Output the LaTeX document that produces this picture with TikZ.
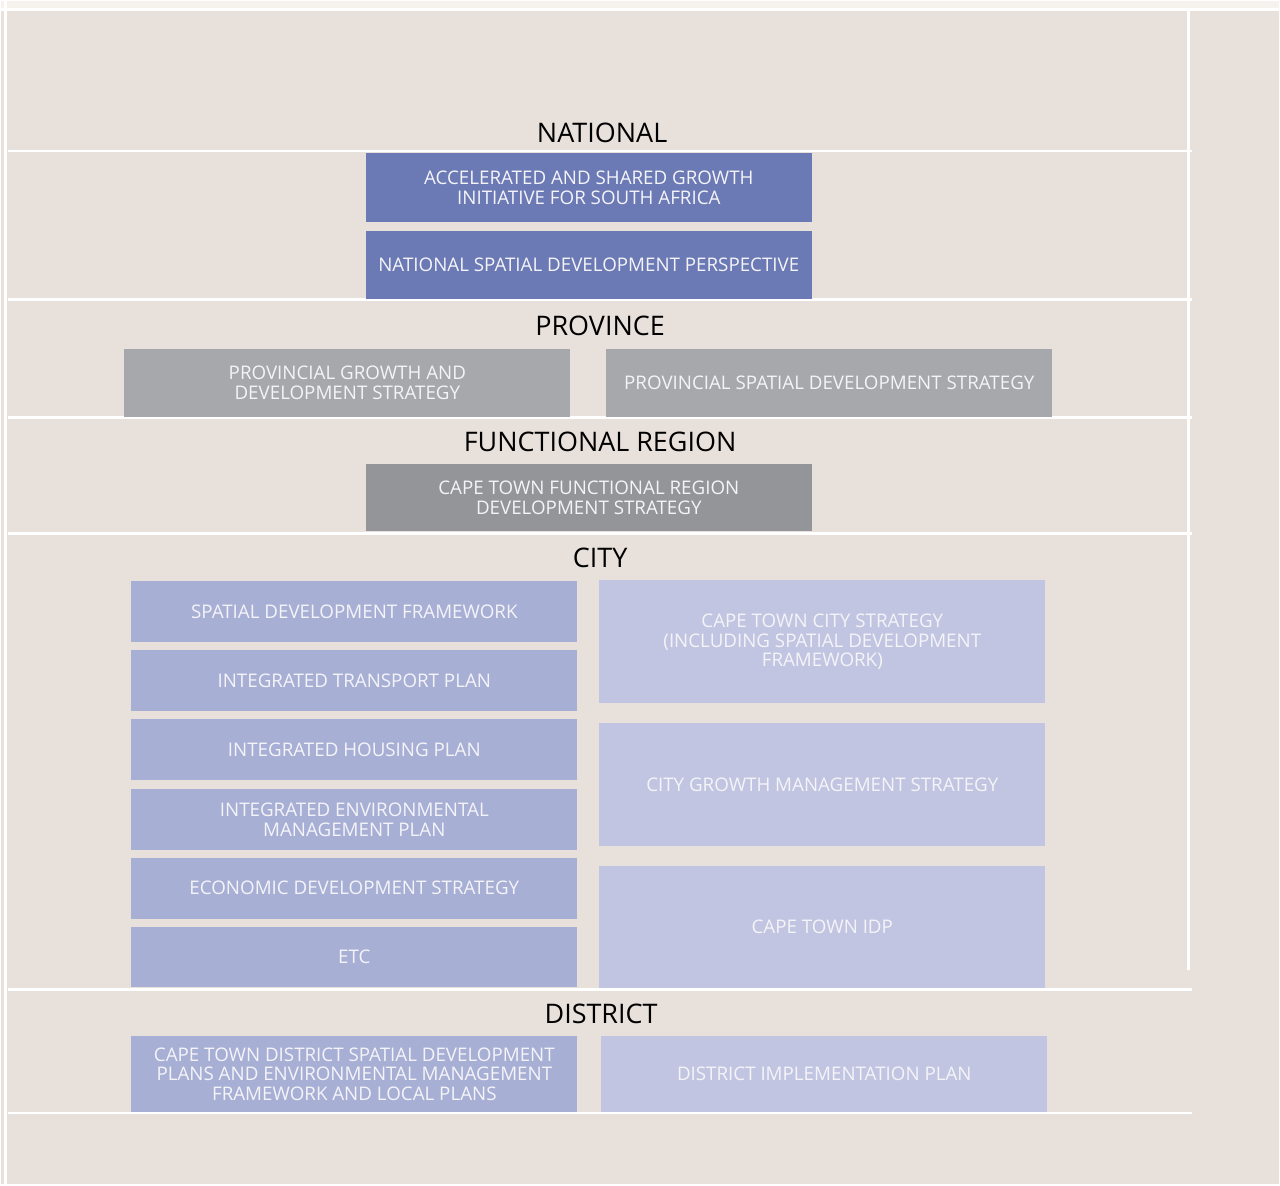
\documentclass[tikz,border=0pt]{standalone}
\usepackage{fontspec}
\setmainfont{Open Sans}
\definecolor{paper}{HTML}{E8E0DA}
\definecolor{paperlight}{HTML}{F6F2EE}
\definecolor{natblue}{HTML}{6B79B4}
\definecolor{provgrey}{HTML}{A7A8AC}
\definecolor{regiongrey}{HTML}{939598}
\definecolor{citymid}{HTML}{A8AFD5}
\definecolor{citylight}{HTML}{C2C5E1}
\definecolor{boxtext}{HTML}{F4F4F8}

\begin{document}
\begin{tikzpicture}[x=1pt,y=-1pt,
  level/.style={font=\fontsize{27}{30}\selectfont, text=black, inner sep=0pt},
  plan/.style={rectangle, anchor=north west, inner sep=0pt, align=center,
    text=boxtext, font=\fontsize{18.8}{20}\selectfont, minimum width=447pt},
  rule/.style={white, line width=2.8pt}]

% page and frame
\fill[paper] (0,0) rectangle (1280,1185);
\fill[paperlight] (0,0) rectangle (1280,8);
\draw[rule] (0,8) -- (1280,8);
\draw[rule] (4,0) -- (4,1185);
\draw[rule] (1190,8) -- (1190,971);
\foreach \y in {150,299,417,533,990,1114}
  \draw[rule] (7,\y) -- (1193,\y);

% national
\node[level] (national) at (602,132) {NATIONAL};
\node[plan, fill=natblue, minimum height=69pt] (asgisa) at (365,152)
  {ACCELERATED AND SHARED GROWTH\\INITIATIVE FOR SOUTH AFRICA};
\node[plan, fill=natblue, minimum height=68pt] (nsdp) at (365,230)
  {NATIONAL SPATIAL DEVELOPMENT PERSPECTIVE};

% province
\node[level] (province) at (600,325) {PROVINCE};
\node[plan, fill=provgrey, minimum height=68pt] (pgds) at (123,348)
  {PROVINCIAL GROWTH AND\\DEVELOPMENT STRATEGY};
\node[plan, fill=provgrey, minimum height=68pt] (psds) at (606,348)
  {PROVINCIAL SPATIAL DEVELOPMENT STRATEGY};

% functional region
\node[level] (region) at (600,441) {FUNCTIONAL REGION};
\node[plan, fill=regiongrey, minimum height=68pt] (frds) at (365,463)
  {CAPE TOWN FUNCTIONAL REGION\\DEVELOPMENT STRATEGY};

% city
\node[level] (city) at (600,558) {CITY};
\node[plan, fill=citymid, minimum height=61pt] (sdf) at (130,581)
  {SPATIAL DEVELOPMENT FRAMEWORK};
\node[plan, fill=citymid, minimum height=61pt] (itp) at (130,650)
  {INTEGRATED TRANSPORT PLAN};
\node[plan, fill=citymid, minimum height=61pt] (ihp) at (130,719)
  {INTEGRATED HOUSING PLAN};
\node[plan, fill=citymid, minimum height=61pt] (iemp) at (130,789)
  {INTEGRATED ENVIRONMENTAL\\MANAGEMENT PLAN};
\node[plan, fill=citymid, minimum height=61pt] (eds) at (130,858)
  {ECONOMIC DEVELOPMENT STRATEGY};
\node[plan, fill=citymid, minimum height=61pt] (etc) at (130,927)
  {ETC};
\node[plan, fill=citylight, minimum height=123pt] (cts) at (599,580)
  {CAPE TOWN CITY STRATEGY\\(INCLUDING SPATIAL DEVELOPMENT\\FRAMEWORK)};
\node[plan, fill=citylight, minimum height=123pt] (cgms) at (599,723)
  {CITY GROWTH MANAGEMENT STRATEGY};
\node[plan, fill=citylight, minimum height=123pt] (idp) at (599,866)
  {CAPE TOWN IDP};

% district
\node[level] (district) at (601,1015) {DISTRICT};
\node[plan, fill=citymid, minimum height=76pt] (dsdp) at (130,1037)
  {CAPE TOWN DISTRICT SPATIAL DEVELOPMENT\\PLANS AND ENVIRONMENTAL MANAGEMENT\\FRAMEWORK AND LOCAL PLANS};
\node[plan, fill=citylight, minimum height=76pt] (dip) at (601,1037)
  {DISTRICT IMPLEMENTATION PLAN};

\end{tikzpicture}
\end{document}
